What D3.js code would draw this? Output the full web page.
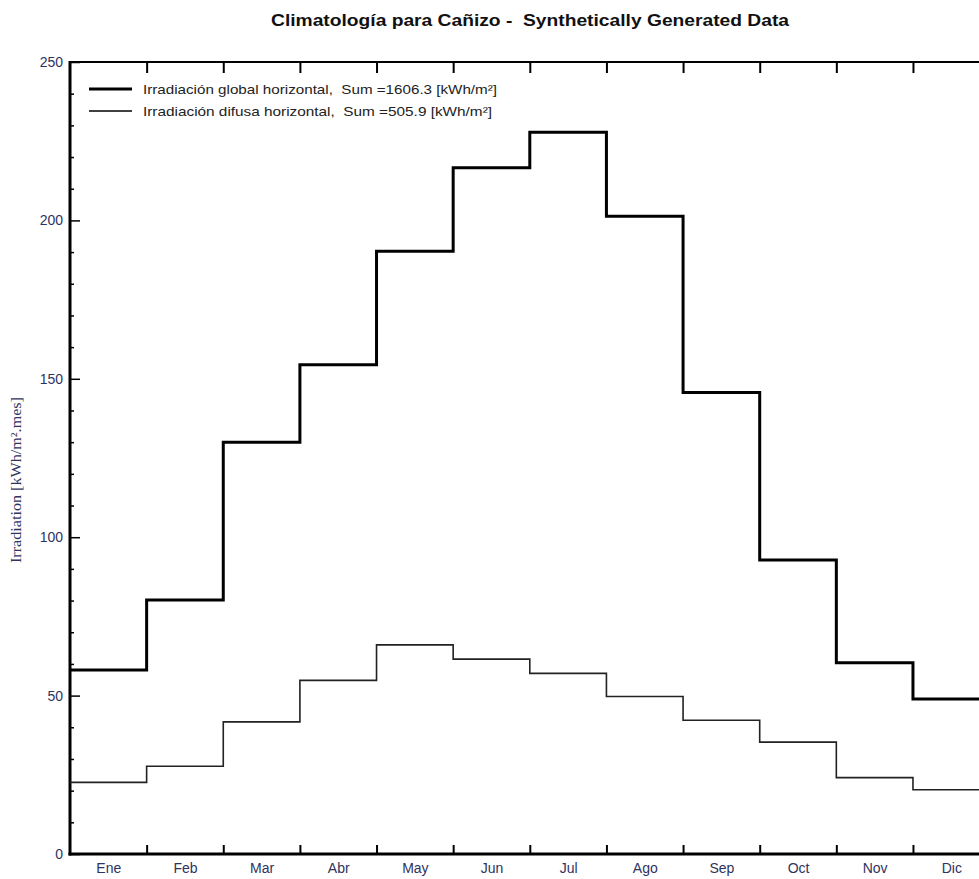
<!DOCTYPE html>
<html>
<head>
<meta charset="utf-8">
<script src="https://cdn.jsdelivr.net/npm/d3@7"></script>
<style>
  body { margin: 0; background: #fff; }
  svg { display: block; }
  text { white-space: pre; }
  .tick text { font-family: "Liberation Sans", Arial, sans-serif; fill: #2e3360; }
</style>
</head>
<body>
<svg id="canvas" width="979" height="879"></svg>
<script>
// month labels
var months = ["Ene","Feb","Mar","Abr","May","Jun","Jul","Ago","Sep","Oct","Nov","Dic"];

// global horizontal irradiation per month [kWh/m2.mes]
var globalVals = [58.1, 80.2, 130.0, 154.4, 190.3, 216.6, 227.8, 201.3, 145.7, 92.8, 60.4, 48.9];

// diffuse horizontal irradiation per month
var diffuseVals = [22.6, 27.7, 41.7, 54.8, 66.0, 61.5, 57.0, 49.7, 42.2, 35.3, 24.1, 20.3];

var yMajor = [0, 50, 100, 150, 200, 250];
var yMinor = [10,20,30,40,60,70,80,90,110,120,130,140,160,170,180,190,210,220,230,240];

var legendLabels = [
    "Irradiación global horizontal,  Sum =1606.3 [kWh/m²]",
    "Irradiación difusa horizontal,  Sum =505.9 [kWh/m²]"
];

var title = "Climatología para Cañizo -  Synthetically Generated Data";

var canvas = d3.select("#canvas");

// plot box (right edge runs past the window, as in the original)
var plotLeft = 70, plotRight = 989.6, plotTop = 62, plotBottom = 854;

var x = d3.scaleLinear().domain([0, 12]).range([plotLeft, plotRight]);
var y = d3.scaleLinear().domain([0, 250]).range([plotBottom, plotTop]);

// title
canvas.append("text")
    .attr("x", 530)
    .attr("y", 26)
    .attr("text-anchor", "middle")
    .attr("textLength", 518)
    .attr("lengthAdjust", "spacingAndGlyphs")
    .style("font-family", "'Liberation Sans', Arial, sans-serif")
    .style("font-weight", "bold")
    .style("font-size", "16px")
    .style("fill", "#111")
    .text(title);

// y axis label
canvas.append("text")
    .attr("transform", "translate(21,480) rotate(-90)")
    .attr("text-anchor", "middle")
    .attr("textLength", 166)
    .attr("lengthAdjust", "spacingAndGlyphs")
    .style("font-family", "'Liberation Serif', 'Times New Roman', serif")
    .style("font-size", "14px")
    .style("fill", "#2e3360")
    .text("Irradiation [kWh/m².mes]");

// minor y ticks
canvas.append("g")
    .attr("transform", "translate(" + plotLeft + ",0)")
    .call(d3.axisLeft(y).tickValues(yMinor).tickSize(-4).tickFormat(""))
    .call(function(g){ g.select(".domain").remove(); })
    .selectAll("line").attr("stroke", "#000").attr("stroke-width", 1.5);

// major y ticks
var yAxis = canvas.append("g")
    .attr("transform", "translate(" + plotLeft + ",0)")
    .call(d3.axisLeft(y).tickValues(yMajor).tickSize(-10).tickPadding(7));
yAxis.select(".domain").remove();
yAxis.selectAll("line").attr("stroke", "#000").attr("stroke-width", 1.5);
yAxis.selectAll("text").style("font-size", "14px");

// bottom ticks at month boundaries
var bounds = d3.range(1, 12);
canvas.append("g")
    .attr("transform", "translate(0," + plotBottom + ")")
    .call(d3.axisBottom(x).tickValues(bounds).tickSize(-9).tickFormat(""))
    .call(function(g){ g.select(".domain").remove(); })
    .selectAll("line").attr("stroke", "#000").attr("stroke-width", 2);

// top ticks
canvas.append("g")
    .attr("transform", "translate(0," + plotTop + ")")
    .call(d3.axisTop(x).tickValues(bounds).tickSize(-11).tickFormat(""))
    .call(function(g){ g.select(".domain").remove(); })
    .selectAll("line").attr("stroke", "#000").attr("stroke-width", 2);

// month labels centred in each month
var xLab = canvas.append("g")
    .attr("transform", "translate(0," + plotBottom + ")")
    .call(d3.axisBottom(x)
        .tickValues(d3.range(12).map(function(i){ return i + 0.5; }))
        .tickSize(0).tickPadding(9)
        .tickFormat(function(d){ return months[Math.floor(d)]; }));
xLab.select(".domain").remove();
xLab.selectAll("text").style("font-size", "14px");

// frame: top border, left and bottom axis
canvas.append("line")
    .attr("x1", plotLeft).attr("x2", 979)
    .attr("y1", plotTop).attr("y2", plotTop)
    .attr("stroke", "#000").attr("stroke-width", 2);

canvas.append("line")
    .attr("x1", plotLeft).attr("x2", plotLeft)
    .attr("y1", plotTop - 1).attr("y2", plotBottom + 1.5)
    .attr("stroke", "#000").attr("stroke-width", 3);

canvas.append("line")
    .attr("x1", plotLeft - 1.5).attr("x2", 979)
    .attr("y1", plotBottom).attr("y2", plotBottom)
    .attr("stroke", "#000").attr("stroke-width", 3);

// step lines
function stepData(vals){
    var pts = vals.map(function(v, i){ return [i, v]; });
    pts.push([12, vals[vals.length - 1]]);
    return pts;
}

var stepLine = d3.line()
    .x(function(d){ return x(d[0]); })
    .y(function(d){ return y(d[1]); })
    .curve(d3.curveStepAfter);

canvas.append("path")
    .attr("d", stepLine(stepData(diffuseVals)))
    .attr("fill", "none")
    .attr("stroke", "#222")
    .attr("stroke-width", 1.6);

canvas.append("path")
    .attr("d", stepLine(stepData(globalVals)))
    .attr("fill", "none")
    .attr("stroke", "#000")
    .attr("stroke-width", 3);

// legend
var legendY = [89, 111];
var legendW = [3, 1.6];
var legendLen = [354, 349];
for (var i = 0; i < 2; i++){
    canvas.append("line")
        .attr("x1", 89).attr("x2", 132)
        .attr("y1", legendY[i]).attr("y2", legendY[i])
        .attr("stroke", "#000")
        .attr("stroke-width", legendW[i]);

    canvas.append("text")
        .attr("x", 143)
        .attr("y", legendY[i])
        .attr("dy", "0.35em")
        .attr("textLength", legendLen[i])
        .attr("lengthAdjust", "spacingAndGlyphs")
        .style("font-family", "'Liberation Sans', Arial, sans-serif")
        .style("font-size", "13px")
        .style("fill", "#222")
        .text(legendLabels[i]);
}
</script>
</body>
</html>
